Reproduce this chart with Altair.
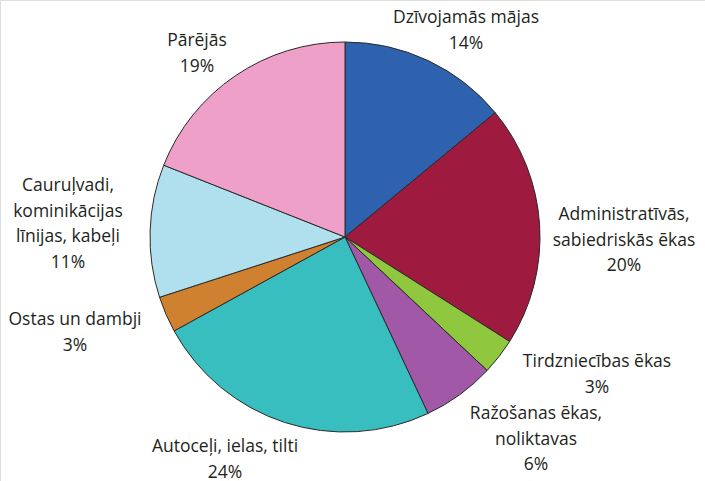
import altair as alt
import pandas as pd

# data
categories = [
    "Dzīvojamās mājas",
    "Administratīvās, sabiedriskās ēkas",
    "Tirdzniecības ēkas",
    "Ražošanas ēkas, noliktavas",
    "Autoceļi, ielas, tilti",
    "Ostas un dambji",
    "Cauruļvadi, kominikācijas līnijas, kabeļi",
    "Pārējās",
]
label_lines = [
    ["Dzīvojamās mājas"],
    ["Administratīvās,", "sabiedriskās ēkas"],
    ["Tirdzniecības ēkas"],
    ["Ražošanas ēkas,", "noliktavas"],
    ["Autoceļi, ielas, tilti"],
    ["Ostas un dambji"],
    ["Cauruļvadi,", "kominikācijas", "līnijas, kabeļi"],
    ["Pārējās"],
]
shares = [14, 20, 3, 6, 24, 3, 11, 19]
colors = ["#2F62AE", "#9E1A3E", "#8FC73E", "#A058A7", "#39BEC0", "#CF8130", "#B0E0EE", "#EFA0C8"]

# layout (label anchor: centre x, first-line y, pixels)
label_x = [466, 624, 597, 536, 225, 75, 68, 197]
label_y = [18, 215, 362, 414, 447, 320, 186, 41]
CX, CY, R = 345, 237, 195

df = pd.DataFrame({
    "cat": categories,
    "share": shares,
    "order": list(range(len(categories))),
    "label": [lines + [f"{s}%"] for lines, s in zip(label_lines, shares)],
    "lx": label_x,
    "ly": label_y,
})

pie = alt.Chart(df).mark_arc(
    outerRadius=R, stroke="#2a2a2a", strokeWidth=1
).encode(
    theta=alt.Theta("share:Q", stack=True),
    order=alt.Order("order:Q"),
    color=alt.Color("cat:N", scale=alt.Scale(domain=categories, range=colors), legend=None),
    x=alt.value(CX),
    y=alt.value(CY),
)

labels = alt.Chart(df).mark_text(
    font="Open Sans", fontSize=17.5, color="#231f20", align="center",
    baseline="middle", lineHeight=25.5,
).encode(
    x=alt.X("lx:Q", scale=None),
    y=alt.Y("ly:Q", scale=None),
    text="label",
)

chart = alt.layer(pie, labels).properties(
    width=705, height=481, padding=0,
    autosize=alt.AutoSizeParams(type="none"),
).configure_view(stroke=None).configure(background="white")

chart.save("out.html", embed_options={"renderer": "svg", "actions": False})
